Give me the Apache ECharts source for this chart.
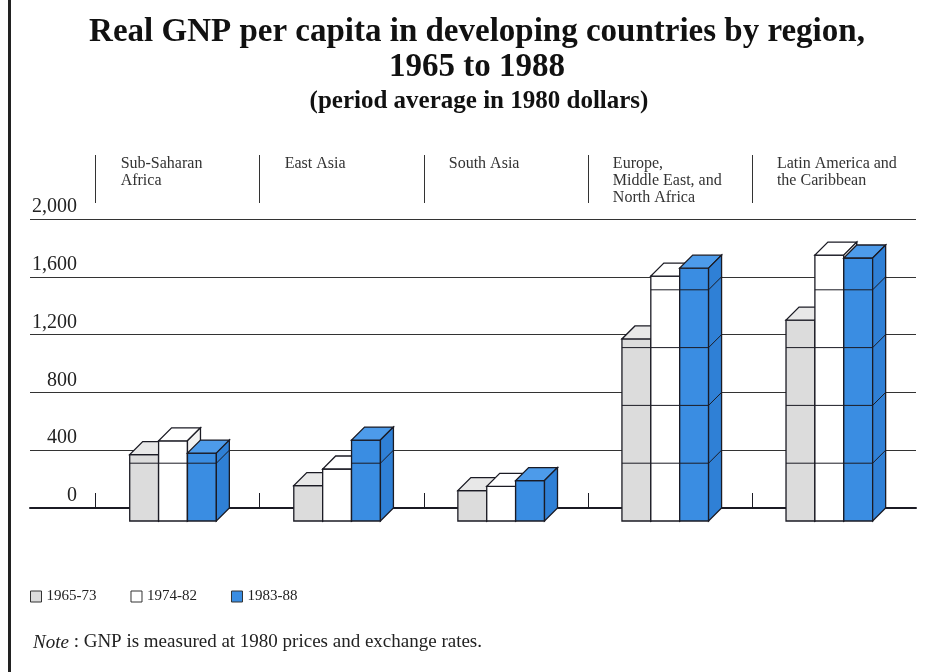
<!DOCTYPE html>
<html>
<head>
<meta charset="utf-8">
<script src="https://cdn.jsdelivr.net/npm/echarts@6/dist/echarts.min.js"></script>
<style>
  html, body { margin: 0; padding: 0; background: #fff; }
  #chart { width: 928px; height: 672px; }
</style>
</head>
<body>
<div id="chart"></div>
<script>
// values (1980 dollars)
const regions = [
  "Sub-Saharan\nAfrica",
  "East Asia",
  "South Asia",
  "Europe,\nMiddle East, and\nNorth Africa",
  "Latin America and\nthe Caribbean",
];
const periods = ["1965-73", "1974-82", "1983-88"];
const gnp6573 = [460, 245, 210, 1260, 1390];
const gnp7482 = [555, 360, 240, 1695, 1840];
const gnp8388 = [470, 560, 280, 1750, 1820];
const yTicks = [0, 400, 800, 1200, 1600, 2000];
const regionTicks = [0, 1, 2, 3, 4];

const SERIF = "Liberation Serif";
const INK = "#1b1b24";

const faces = [
  { front: "#dcdcdc", top: "#e8e8e8", side: "#cdcdcd" },
  { front: "#ffffff", top: "#ffffff", side: "#f2f2f2" },
  { front: "#3a8de2", top: "#4d9bea", side: "#2f80d6" },
];

// 3D block drawn from the axis scales
function blockRenderer(s) {
  return function (params, api) {
    const i = api.value(0);
    const val = api.value(1);
    const c = api.coord([i + 0.5, 0]);
    const yTop = api.coord([i + 0.5, val])[1];
    const yBase = c[1];
    const band = api.size([1, 0])[0];
    const w = band * 0.176;
    const d = 13;
    const left = c[0] - band * 0.213 + s * w;
    const right = left + w;
    const f = faces[s];
    const st = { stroke: INK, lineWidth: 1.3 };
    const kids = [
      {
        type: "rect",
        shape: { x: left - d, y: yTop + d, width: w, height: yBase - yTop },
        style: Object.assign({ fill: f.front }, st),
      },
      {
        type: "polygon",
        shape: { points: [[left - d, yTop + d], [right - d, yTop + d], [right, yTop], [left, yTop]] },
        style: Object.assign({ fill: f.top }, st),
      },
      {
        type: "polygon",
        shape: { points: [[right - d, yTop + d], [right, yTop], [right, yBase], [right - d, yBase + d]] },
        style: Object.assign({ fill: f.side }, st),
      },
    ];
    yTicks.forEach((t) => {
      if (t <= 0 || t >= val) return;
      const y = api.coord([i + 0.5, t])[1];
      kids.push({
        type: "polyline",
        shape: { points: [[left - d, y + d], [right - d, y + d], [right, y]] },
        style: { stroke: INK, lineWidth: 1, fill: null },
      });
    });
    return { type: "group", children: kids };
  };
}

const chart = echarts.init(document.getElementById("chart"));

const option = {
  backgroundColor: "#ffffff",
  animation: false,
  textStyle: { fontFamily: SERIF },
  title: [
    {
      text: "Real GNP per capita in developing countries by region,\n1965 to 1988",
      left: 472,
      textAlign: "center",
      top: 10,
      textStyle: { fontFamily: SERIF, fontSize: 33, fontWeight: "bold", color: "#111", lineHeight: 35 },
    },
    {
      text: "(period average in 1980 dollars)",
      left: 474,
      textAlign: "center",
      top: 83,
      textStyle: { fontFamily: SERIF, fontSize: 25, fontWeight: "bold", color: "#111", lineHeight: 28 },
    },
    {
      text: "{i|Note} : GNP is measured at 1980 prices and exchange rates.",
      left: 28,
      top: 628,
      textStyle: {
        fontFamily: SERIF,
        fontSize: 19,
        fontWeight: "normal",
        color: "#222",
        rich: { i: { fontFamily: SERIF, fontSize: 19, fontStyle: "italic", fontWeight: "normal", color: "#222" } },
      },
    },
  ],
  legend: {
    left: 25,
    top: 584,
    itemWidth: 11,
    itemHeight: 11,
    itemGap: 34,
    icon: "rect",
    textStyle: { fontFamily: SERIF, fontSize: 15, color: "#222" },
    data: periods.map((p, k) => ({
      name: p,
      itemStyle: { color: faces[k].front, borderColor: "#333", borderWidth: 1 },
    })),
  },
  graphic: [
    { type: "rect", shape: { x: 8, y: 0, width: 3, height: 672 }, style: { fill: "#222" }, silent: true },
  ],
  grid: [
    { left: 30, right: 12, top: 219, bottom: 164 },
    { left: 30, right: 12, top: 155, height: 48 },
  ],
  xAxis: [
    {
      type: "value",
      gridIndex: 0,
      min: -0.4,
      max: 5,
      axisLine: { show: true, lineStyle: { color: INK, width: 2 } },
      axisTick: { show: true, inside: true, length: 15, customValues: regionTicks, lineStyle: { color: INK } },
      axisLabel: { show: false },
      splitLine: { show: false },
    },
    {
      type: "value",
      gridIndex: 1,
      position: "top",
      min: -0.4,
      max: 5,
      axisLine: { show: false, onZero: false },
      axisTick: { show: true, inside: true, length: 48, customValues: regionTicks, lineStyle: { color: "#333" } },
      axisLabel: {
        show: true,
        inside: true,
        customValues: regionTicks,
        formatter: (v) => regions[Math.round(v)] || "",
        align: "left",
        verticalAlign: "top",
        margin: 0,
        padding: [0, 0, 0, 25],
        fontFamily: SERIF,
        fontSize: 16,
        lineHeight: 17,
        color: "#333",
      },
      splitLine: { show: false },
    },
  ],
  yAxis: [
    {
      type: "value",
      gridIndex: 0,
      min: 0,
      max: 2000,
      interval: 400,
      axisLine: { show: false },
      axisTick: { show: false },
      axisLabel: {
        inside: true,
        align: "right",
        verticalAlign: "bottom",
        margin: 47,
        padding: [0, 0, 2, 0],
        fontFamily: SERIF,
        fontSize: 20,
        lineHeight: 20,
        color: "#222",
        formatter: (v) => v.toLocaleString("en-US"),
      },
      splitLine: { show: true, lineStyle: { color: "#333", width: 1 } },
    },
    { type: "value", gridIndex: 1, show: false, min: 0, max: 1 },
  ],
  series: [gnp6573, gnp7482, gnp8388].map((vals, s) => ({
    name: periods[s],
    type: "custom",
    xAxisIndex: 0,
    yAxisIndex: 0,
    clip: false,
    silent: true,
    itemStyle: { color: faces[s].front, borderColor: "#333" },
    renderItem: blockRenderer(s),
    data: vals.map((v, i) => [i, v]),
  })),
};

chart.setOption(option);
</script>
</body>
</html>
